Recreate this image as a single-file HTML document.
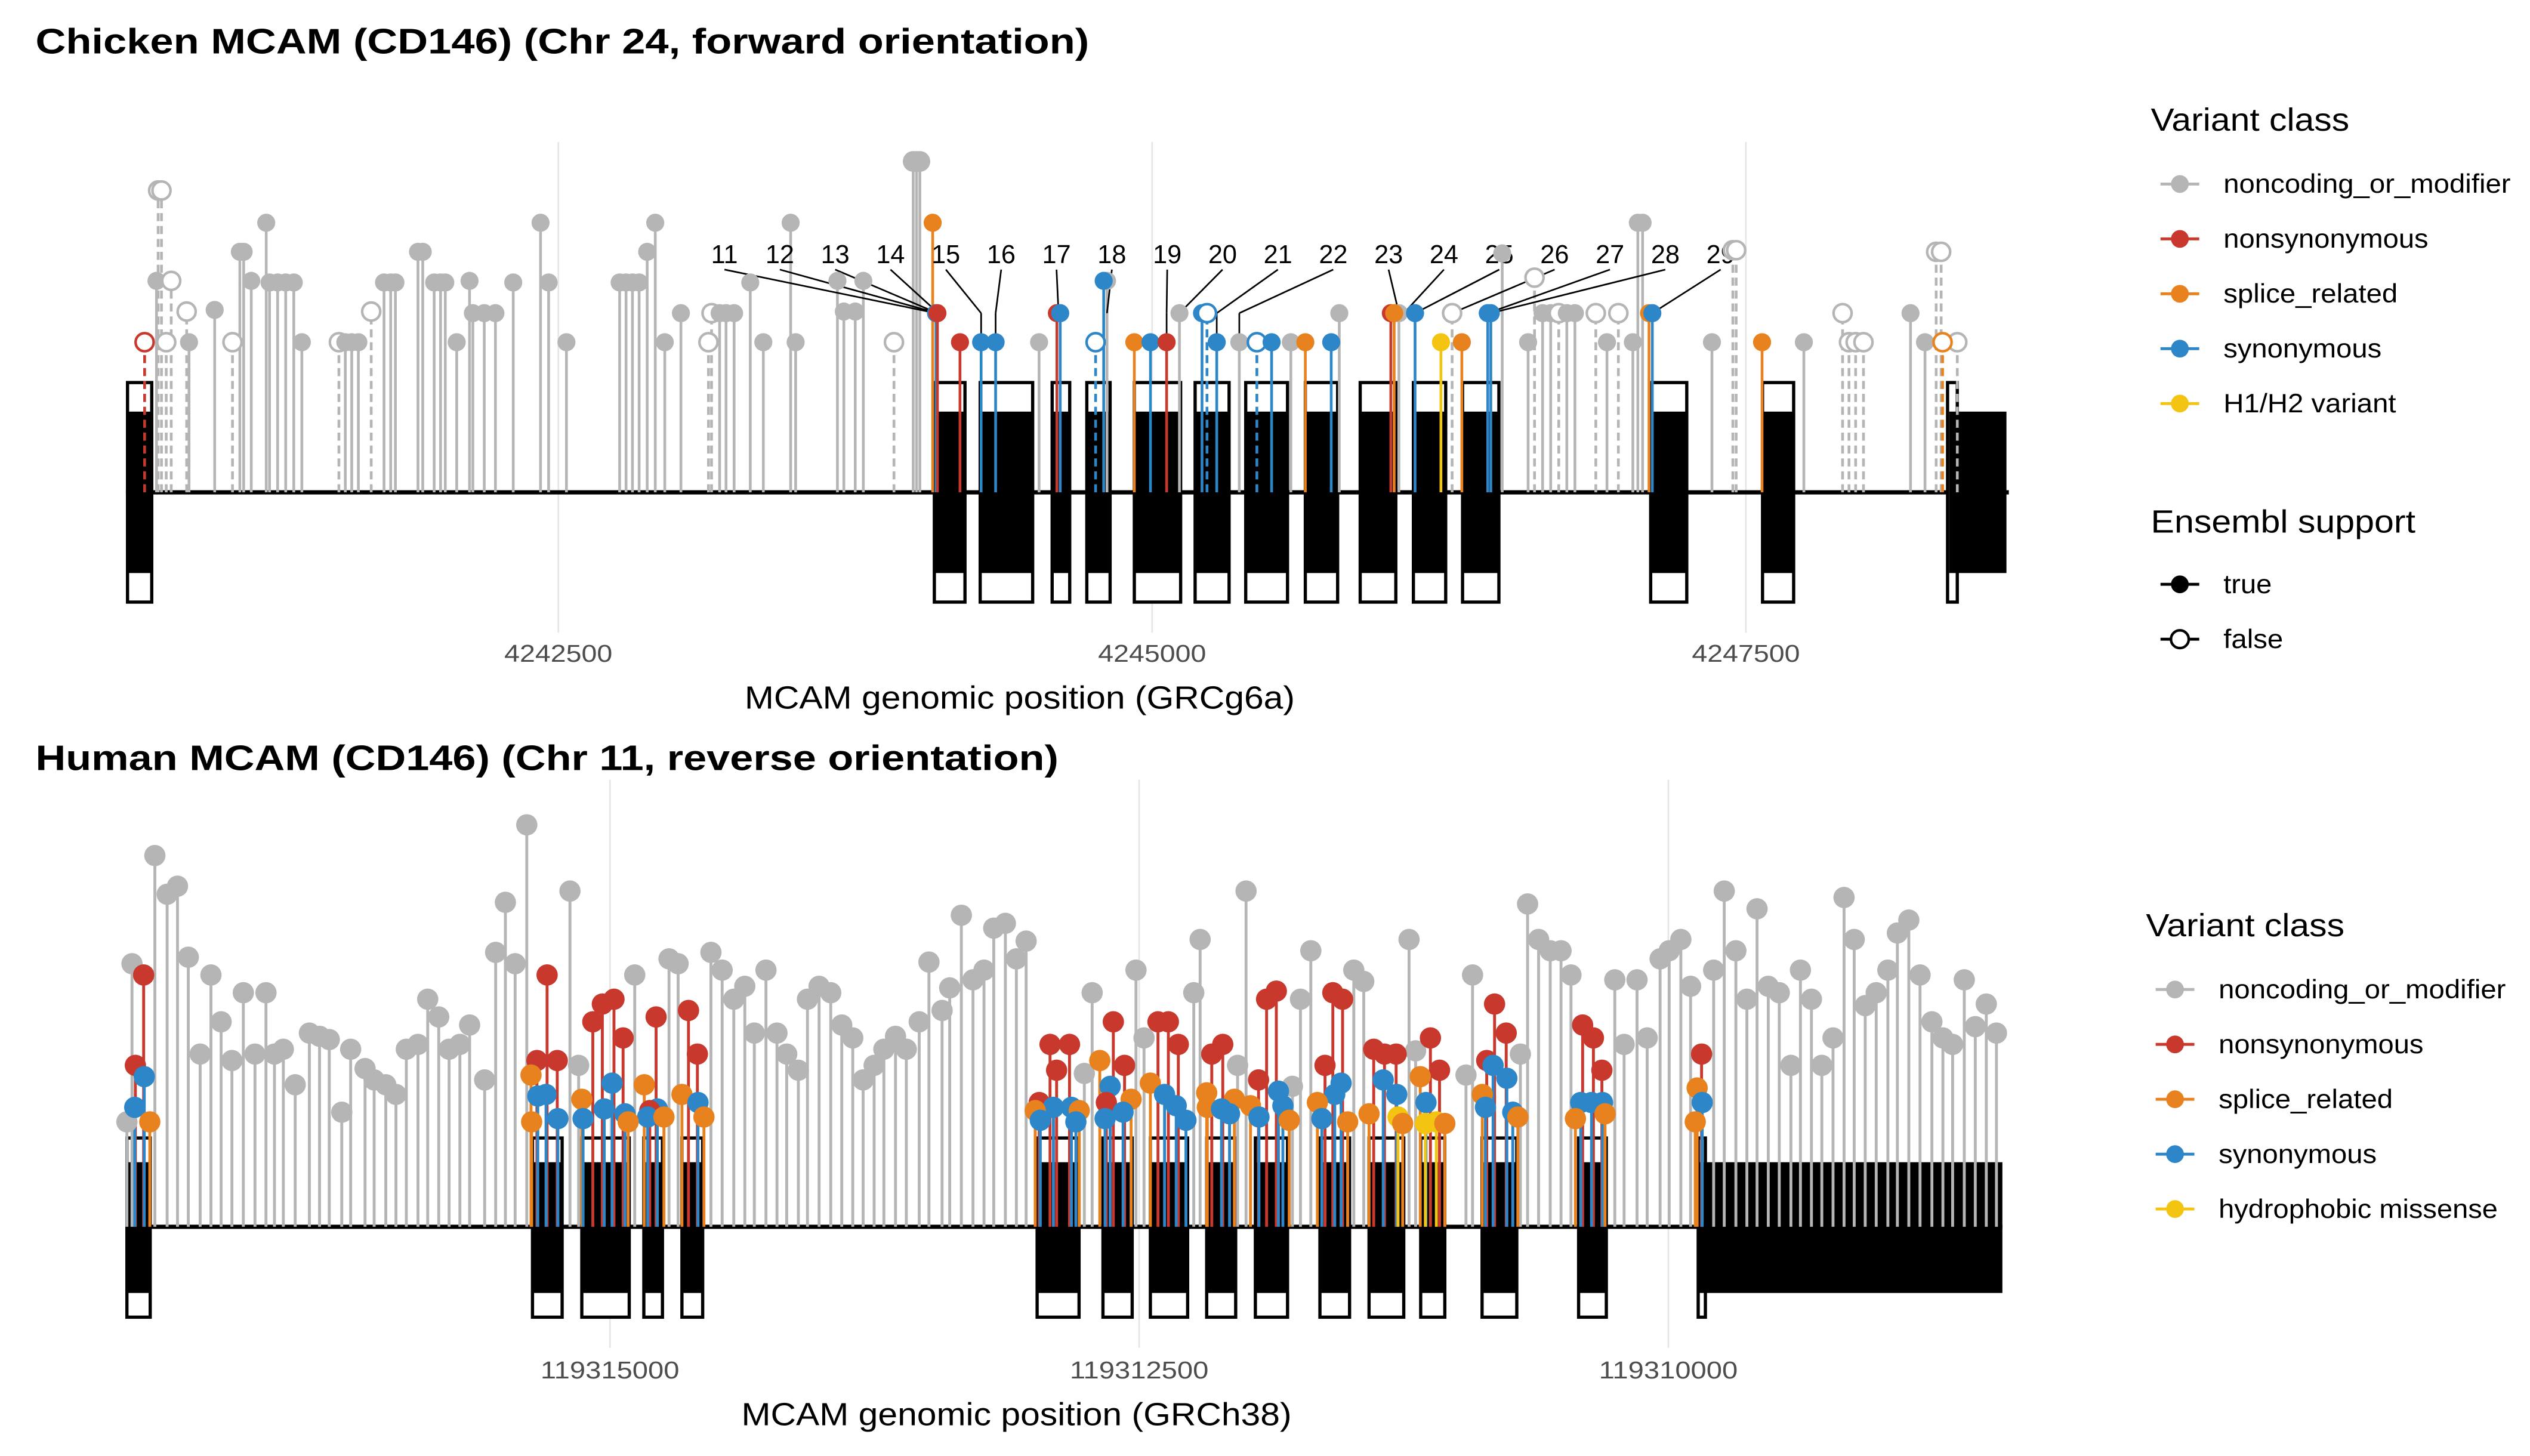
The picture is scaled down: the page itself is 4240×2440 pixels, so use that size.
<!DOCTYPE html>
<html><head><meta charset="utf-8"><style>
html,body{margin:0;padding:0;background:#fff;}
svg{display:block;font-family:"Liberation Sans",Arial,sans-serif;}
</style></head><body>
<svg id="fig" width="4240" height="2440" viewBox="0 0 1568 902" preserveAspectRatio="none" xmlns="http://www.w3.org/2000/svg">
<rect x="0" y="0" width="1568" height="902" fill="#fff"/>
<text x="22" y="33" font-size="22" font-weight="bold" textLength="653" lengthAdjust="spacingAndGlyphs">Chicken MCAM (CD146) (Chr 24, forward orientation)</text>
<text x="22" y="477" font-size="22" font-weight="bold" textLength="634" lengthAdjust="spacingAndGlyphs">Human MCAM (CD146) (Chr 11, reverse orientation)</text>
<g id="topPanel"></g>
<g id="botPanel"></g>
<g id="legends"></g>
</svg>
<script>
// ---------- Chicken data ----------
const chickenPos=[4240758,4240815,4240829,4240808,4240849,4240870,4240935,4240945,4241053,4241128,4241159,4241175,4241207,4241270,4241284,4241318,4241352,4241386,4241420,4241576,4241603,4241630,4241658,4241712,4241766,4241794,4241814,4241909,4241929,4241977,4242004,4242024,4242072,4242126,4242140,4242188,4242235,4242310,4242425,4242459,4242534,4242758,4242785,4242812,4242840,4242874,4242908,4242948,4243016,4243132,4243145,4243179,4243206,4243240,4243308,4243363,4243478,4243499,4243675,4243702,4243750,4243784,4243913,4243994,4244008,4244022,4244076,4244090,4244096,4244191,4244280,4244341,4244524,4244599,4244613,4244762,4244796,4244810,4244925,4244993,4245061,4245115,4245210,4245231,4245272,4245367,4245441,4245503,4245584,4245645,4245754,4245788,4246005,4246019,4246039,4246107,4246216,4246304,4246263,4246413,4246426,4246474,4246583,4246610,4246644,4246678,4246712,4246746,4246780,4246868,4246915,4246963,4247024,4247045,4247065,4247092,4247106,4247357,4247445,4247459,4247568,4247744,4247907,4247934,4247962,4247995,4248193,4248254,4248301,4248322,4248328,4248390];
const chickenScore=[93,187,187,131,93,131,112,93,113,93,149,149,131,167,130,130,130,130,93,93,93,93,93,112,130,130,130,149,149,130,130,130,93,131,111,111,111,130,167,130,93,130,130,130,130,149,167,93,111,93,111,111,111,111,130,93,167,93,131,112,112,131,93,205,205,205,167,111,111,93,93,93,93,111,111,93,131,131,93,93,93,111,111,111,93,93,93,93,93,93,93,111,111,111,111,111,93,93,111,111,111,148,93,133,111,111,111,111,111,111,93,111,93,167,167,111,111,93,150,150,93,93,111,93,93,93,111,93,149,149,93,93];
const chickenClass=("m"+"n".repeat(65)+"symmyynmyyynsymnyyynyynsynmsnyhsnyy"+"n".repeat(14)+"sy"+"nnn"+"s"+"n".repeat(9)+"sn").split("");
const chickenSupport=[0,0,0,1,0,0,0,1,1,0,1,1,1,1,1,1,1,1,1,0,1,1,1,0,1,1,1,1,1,1,1,1,1,1,1,1,1,1,1,1,1,1,1,1,1,1,1,1,1,0,0,1,1,1,1,1,1,1,1,1,1,1,0,1,1,1,1,1,1,1,1,1,1,1,1,0,1,1,1,1,1,1,1,0,1,1,0,1,1,1,1,1,1,1,1,1,1,1,0,1,1,1,1,0,1,1,0,1,1,0,1,0,1,1,1,1,1,1,0,0,1,1,0,0,0,0,1,1,0,0,0,0];
const chickenBoxStart=[4240686,4244083,4244276,4244579,4244725,4244925,4245181,4245394,4245645,4245876,4246100,4246307,4247099,4247570,4248349];
const chickenBoxEnd=[4240788,4244212,4244497,4244653,4244823,4245120,4245324,4245570,4245781,4246026,4246236,4246460,4247251,4247701,4248390];
const chickenCdsStart=[4240686,4244083,4244276,4244579,4244725,4244925,4245181,4245394,4245645,4245876,4246100,4246307,4247099,4247570,4248356];
const chickenCdsEnd=[4240788,4244212,4244497,4244653,4244823,4245120,4245324,4245570,4245781,4246026,4246236,4246460,4247251,4247701,4248597];
const chickenTicks=[4242500,4245000,4247500];
const annoIds=[11,12,13,14,15,16,17,18,19,20,21,22,23,24,25,26,27,28,29];
const annoPos=[4244090,4244096,4244096,4244100,4244280,4244341,4244606,4244810,4245061,4245115,4245272,4245367,4246039,4246060,4246107,4246263,4246413,4246426,4247106];
const annoScore=[111,111,111,111,93,93,111,111,93,111,93,93,111,111,111,111,111,111,111];
// ---------- Human data ----------
const humanPos=[119317282,119317258,119317150,119317092,119317043,119316992,119316936,119316885,119316837,119316786,119316732,119316677,119316625,119316585,119316543,119316487,119316420,119316372,119316326,119316267,119316225,119316157,119316114,119316059,119316011,119315962,119315907,119315861,119315809,119315760,119315709,119315663,119315592,119315540,119315494,119315448,119315393,119315189,119315148,119314883,119314721,119314678,119314523,119314470,119314415,119314363,119314318,119314263,119314211,119314165,119314110,119314067,119314012,119313957,119313905,119313853,119313804,119313752,119313706,119313651,119313600,119313539,119313493,119313431,119313395,119313340,119313285,119313233,119313187,119313132,119313080,119313034,119312759,119312722,119312515,119312477,119312242,119312212,119312035,119311995,119311776,119311738,119311689,119311486,119311439,119311225,119311194,119310956,119310925,119310699,119310665,119310613,119310558,119310507,119310460,119310253,119310209,119310148,119310100,119310039,119309996,119309941,119309895,119309786,119309736,119309681,119309629,119309581,119309528,119309476,119309421,119309376,119309324,119309275,119309222,119309170,119309122,119309070,119309018,119308963,119308918,119308864,119308811,119308755,119308703,119308657,119308602,119308550,119308498,119308450,
119317242,119317203,119317200,119317245,119317174,119315373,119315370,119315341,119315302,119315297,119315345,119315249,119315246,119315133,119315127,119315081,119315036,119314981,119314938,119314990,119315027,119314929,119314914,119314838,119314782,119314812,119314822,119314776,119314745,119314629,119314587,119314660,119314584,119314556,119312972,119312991,119312967,119312921,119312890,119312829,119312905,119312820,119312799,119312783,119312686,119312622,119312569,119312637,119312655,119312661,119312576,119312538,119312447,119312411,119312362,119312315,119312380,119312325,119312279,119312181,119312178,119312157,119312105,119312111,119312073,119312050,119311936,119311898,119311852,119311934,119311842,119311821,119311974,119311791,119311622,119311585,119311539,119311637,119311576,119311546,119311658,119311515,119311392,119311341,119311286,119311347,119311283,119311414,119311277,119311255,119311124,119311081,119311172,119311145,119311148,119311096,119311056,119310821,119310766,119310858,119310828,119310763,119310879,119310864,119310735,119310711,119310405,119310354,119310314,119310414,119310363,119310311,119310439,119310299,119309843,119309864,119309840,119309873];
const humanScore=[65,163,230,206,211,167,107,156,127,103,145,107,145,107,110,88,120,118,116,71,110,98,91,88,82,110,113,141,130,110,113,125,91,170,201,163,249,208,100,156,166,163,170,159,141,149,120,159,120,107,97,141,149,145,125,117,91,100,110,118,110,127,164,134,148,193,153,159,185,188,166,177,95,145,159,117,145,178,100,208,87,141,171,159,152,178,109,94,156,107,200,178,171,171,156,153,113,153,117,166,171,178,149,159,208,171,141,197,149,145,100,159,141,100,117,204,178,137,145,159,182,190,156,127,117,113,153,124,138,120,
100,156,93,74,65,94,65,81,82,156,103,103,67,79,67,127,138,141,117,89,73,70,65,88,130,72,68,73,68,134,107,82,77,68,77,72,66,113,97,113,74,74,65,72,103,127,100,87,77,67,71,79,89,127,127,113,82,75,66,83,74,107,113,73,70,79,91,141,146,68,84,75,75,66,100,145,141,67,82,89,77,65,110,107,107,91,82,70,68,64,117,97,93,77,64,65,64,138,120,103,100,92,82,74,71,68,125,117,97,77,77,77,67,70,107,86,77,65];
const humanColoredClass="mmyys"+"ssyymmmy"+"symmmmyyys"+"smmyys"+"mmsys"+"msymmmyyys"+"smmymyys"+"smmmyyy"+"ssmmyys"+"mmmyyyss"+"mmmyyyss"+"mmmyyshs"+"mmsyhhs"+"mmmyysyys"+"mmmyyyss"+"msys";
const humanClass=("n".repeat(humanPos.length-humanColoredClass.length)+humanColoredClass).split("");
const humanBoxStart=[119317282,119315366,119315133,119314840,119314660,119312982,119312671,119312447,119312181,119311951,119311646,119311414,119311170,119310880,119310424,119309859];
const humanBoxEnd=[119317172,119315226,119314909,119314752,119314562,119312784,119312533,119312271,119312044,119311799,119311506,119311250,119311056,119310716,119310293,119309825];
const humanCdsStart=[119317282,119315366,119315133,119314840,119314660,119312982,119312671,119312447,119312181,119311951,119311646,119311414,119311170,119310880,119310424,119309859];
const humanCdsEnd=[119317172,119315226,119314909,119314752,119314562,119312784,119312533,119312271,119312044,119311799,119311506,119311250,119311056,119310716,119310293,119308422];
const humanTicks=[119315000,119312500,119310000];

const COLORS={n:"#b5b5b5",m:"#c8382c",s:"#e8821f",y:"#2d86c8",h:"#f3c411"};
const NS="http://www.w3.org/2000/svg";
function mk(parent,tag,attrs){const e=document.createElementNS(NS,tag);for(const k in attrs)e.setAttribute(k,attrs[k]);parent.appendChild(e);return e;}

function drawPanel(g,cfg){
  const xs=p=>cfg.x0+(p-cfg.d0)/(cfg.d1-cfg.d0)*(cfg.x1-cfg.x0);
  const ys=h=>cfg.base-h*cfg.k;
  cfg.ticks.forEach(t=>{
    const l=mk(g,"line",{x1:xs(t),x2:xs(t),y1:cfg.gy0,y2:cfg.gy1,stroke:"#e6e6e6","stroke-width":1});
    
    
    const tx=mk(g,"text",{x:xs(t),y:cfg.tickY,"text-anchor":"middle","font-size":15,fill:"#4d4d4d",textLength:cfg.tickW,lengthAdjust:"spacingAndGlyphs"});
    tx.textContent=t;
    
    
  });
  const at=mk(g,"text",{x:cfg.titleX,y:cfg.titleY,"text-anchor":"middle","font-size":20,fill:"#000",textLength:cfg.titleW,lengthAdjust:"spacingAndGlyphs"});
  at.textContent=cfg.title;
  
  
  const bl=mk(g,"line",{x1:cfg.x0,x2:cfg.x1,y1:cfg.base,y2:cfg.base,stroke:"#000","stroke-width":2.6});
  
  
  cfg.boxS.forEach((s,i)=>{
    const a=xs(s),b=xs(cfg.boxE[i]);
    const r=mk(g,"rect",{x:Math.min(a,b),y:cfg.boxTop,width:Math.abs(b-a),height:cfg.boxBot-cfg.boxTop,fill:"#fff",stroke:"#000","stroke-width":2});
    
    
  });
  cfg.cdsS.forEach((s,i)=>{
    const a=xs(s),b=xs(cfg.cdsE[i]);
    const r=mk(g,"rect",{x:Math.min(a,b),y:cfg.cdsTop,width:Math.abs(b-a),height:cfg.cdsBot-cfg.cdsTop,fill:"#000"});
    
    
  });
  const idx=cfg.pos.map((_,i)=>i).sort((a,b)=>{
    const ga=cfg.cls[a]==="n"?0:1, gb=cfg.cls[b]==="n"?0:1;
    if(ga!==gb)return ga-gb; return cfg.score[b]-cfg.score[a];});
  idx.forEach(i=>{
    const sup=cfg.sup?cfg.sup[i]:1;
    const x=xs(cfg.pos[i]);
    const l=mk(g,"line",{x1:x,x2:x,y1:cfg.base,y2:ys(cfg.score[i]),stroke:COLORS[cfg.cls[i]]||"#b5b5b5","stroke-width":cfg.sw});
    if(!sup)l.setAttribute("stroke-dasharray","5,3");
    
    
  });
  if(cfg.anno)cfg.anno(g,xs,ys);
  idx.forEach(i=>{
    const sup=cfg.sup?cfg.sup[i]:1;
    const col=COLORS[cfg.cls[i]]||"#b5b5b5";
    const c=mk(g,"circle",{cx:xs(cfg.pos[i]),cy:ys(cfg.score[i]),r:cfg.r*(cfg.score[i]>200&&cfg.sup?1.15:1),
      fill:sup?col:"#fff",stroke:col,"stroke-width":sup?0:1.6});
    
    
  });
}

const topG=document.getElementById("topPanel");
drawPanel(topG,{x0:78,x1:1245,d0:4240679,d1:4248607,base:305,k:1,gy0:88,gy1:392,tickY:410,tickW:67,
  titleX:632,titleY:439,titleW:341,title:"MCAM genomic position (GRCg6a)",ticks:chickenTicks,
  boxS:chickenBoxStart,boxE:chickenBoxEnd,cdsS:chickenCdsStart,cdsE:chickenCdsEnd,
  boxTop:237,boxBot:373,cdsTop:255,cdsBot:355,
  pos:chickenPos,score:chickenScore,cls:chickenClass,sup:chickenSupport,sw:1.7,r:5.6,
  anno:(g,xs,ys)=>{
    annoIds.forEach((id,i)=>{
      const lx=449+i*34.3;
      const tx=xs(annoPos[i]);
      const l=mk(g,"line",{x1:lx,y1:167,x2:tx,y2:ys(111),stroke:"#000","stroke-width":1});
      
      
      if(annoScore[i]<111){
        const v=mk(g,"line",{x1:tx,y1:ys(111),x2:tx,y2:ys(annoScore[i]),stroke:"#000","stroke-width":1});
        
        
      }
      const t=mk(g,"text",{x:lx,y:163,"text-anchor":"middle","font-size":16,fill:"#000"});
      t.textContent=id;
      
      
    });
  }});

const botG=document.getElementById("botPanel");
drawPanel(botG,{x0:78,x1:1241,d0:119317287,d1:119308422,base:760,k:1,gy0:483,gy1:835,tickY:854,tickW:86,
  titleX:630,titleY:883,titleW:341,title:"MCAM genomic position (GRCh38)",ticks:humanTicks,
  boxS:humanBoxStart,boxE:humanBoxEnd,cdsS:humanCdsStart,cdsE:humanCdsEnd,
  boxTop:705,boxBot:816,cdsTop:720,cdsBot:801,
  pos:humanPos,score:humanScore,cls:humanClass,sup:null,sw:1.8,r:6.6});

const lg=document.getElementById("legends");
function legendBlock(x,yTitle,title,titleW,labels,widths,cols,ys,open){
  const t=mk(lg,"text",{x:x,y:yTitle,"font-size":20,fill:"#000",textLength:titleW,lengthAdjust:"spacingAndGlyphs"});
  t.textContent=title;
  
  
  labels.forEach((lab,i)=>{
    const y=ys[i];
    const l=mk(lg,"line",{x1:x+6,x2:x+30,y1:y,y2:y,stroke:cols[i],"stroke-width":1.8});
    
    
    const o=open&&open[i];
    const c=mk(lg,"circle",{cx:x+18,cy:y,r:5.5,fill:o?"#fff":cols[i],stroke:cols[i],"stroke-width":o?1.6:0});
    
    
    const tx=mk(lg,"text",{x:x+45,y:y+5.5,"font-size":16.5,fill:"#000",textLength:widths[i],lengthAdjust:"spacingAndGlyphs"});
    tx.textContent=lab;
    
    
  });
}
const cl=[COLORS.n,COLORS.m,COLORS.s,COLORS.y,COLORS.h];
legendBlock(1333,81,"Variant class",123,["noncoding_or_modifier","nonsynonymous","splice_related","synonymous","H1/H2 variant"],[178,127,108,98,107],cl,[114,148,182,216,250]);
legendBlock(1333,330,"Ensembl support",164,["true","false"],[30,37],["#000","#000"],[362,396],[false,true]);
legendBlock(1330,580,"Variant class",123,["noncoding_or_modifier","nonsynonymous","splice_related","synonymous","hydrophobic missense"],[178,127,108,98,173],cl,[613,647,681,715,749]);
</script>
</body></html>
